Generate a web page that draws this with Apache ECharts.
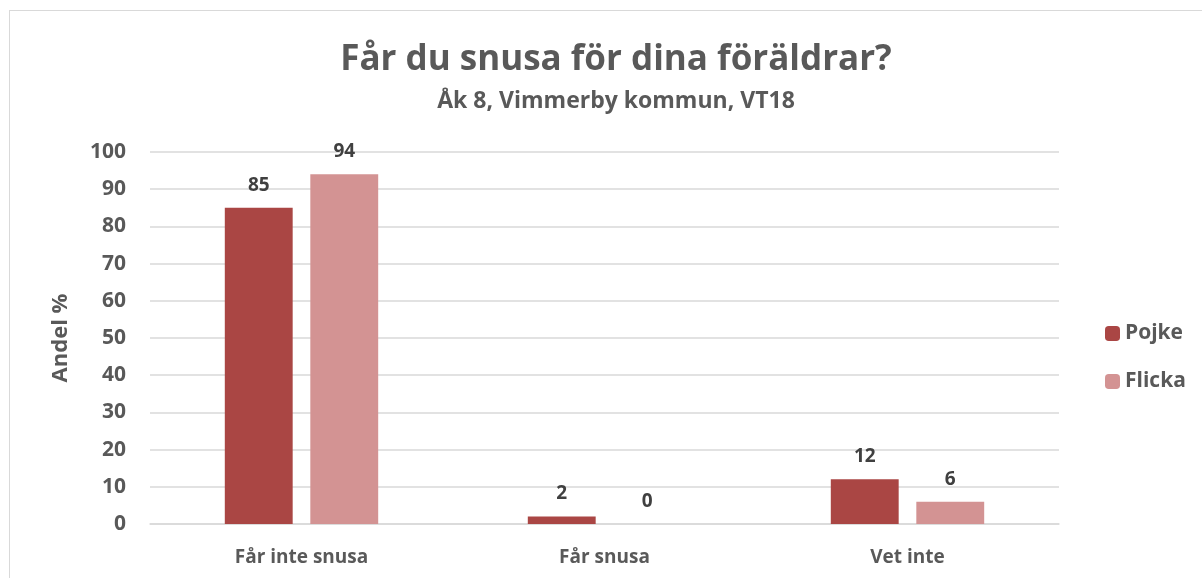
<!DOCTYPE html>
<html>
<head>
<meta charset="utf-8">
<script src="https://cdn.jsdelivr.net/npm/echarts@6/dist/echarts.min.js"></script>
<style>
  html, body { margin: 0; padding: 0; background: #fff; }
  #frame { position: absolute; left: 9px; top: 10px; width: 1200px; height: 580px; border: 1px solid #d9d9d9; box-sizing: border-box; }
  #chart { position: absolute; left: 0; top: 0; width: 1202px; height: 578px; }
</style>
</head>
<body>
<div id="frame"></div>
<div id="chart"></div>
<script>
// data
const categories = ['Får inte snusa', 'Får snusa', 'Vet inte'];
const pojke = [85, 2, 12];
const flicka = [94, 0, 6];
const yTicks = [0, 10, 20, 30, 40, 50, 60, 70, 80, 90, 100];

const font = 'Open Sans';
const grey = '#595959';

let chart = echarts.init(document.getElementById('chart'));
chart.setOption({
    animation: false,
    textStyle: { fontFamily: font },
    title: {
        text: 'Får du snusa för dina föräldrar?',
        subtext: 'Åk 8, Vimmerby kommun, VT18',
        left: 611,
        textAlign: 'center',
        top: 38,
        itemGap: 12,
        textStyle: { fontSize: 35, fontWeight: 'bold', color: grey, fontFamily: font },
        subtextStyle: { fontSize: 23, fontWeight: 'bold', color: grey, fontFamily: font }
    },
    legend: {
        orient: 'vertical',
        left: 1100,
        top: 318,
        itemWidth: 15,
        itemHeight: 15,
        itemGap: 27,
        textStyle: { fontSize: 21, fontWeight: 'bold', color: grey, fontFamily: font },
        data: ['Pojke', 'Flicka']
    },
    grid: { left: 150, right: 143, top: 152, bottom: 54, containLabel: false },
    xAxis: {
        type: 'category',
        data: categories,
        axisLine: { lineStyle: { color: '#d9d9d9', width: 1.5 } },
        axisTick: { show: false },
        axisLabel: { fontSize: 19, fontWeight: 'bold', color: grey, margin: 24 }
    },
    yAxis: {
        type: 'value',
        min: yTicks[0],
        max: yTicks[yTicks.length - 1],
        interval: 10,
        name: 'Andel %',
        nameLocation: 'middle',
        nameRotate: 90,
        nameGap: 78,
        nameTextStyle: { fontSize: 22, fontWeight: 'bold', color: grey },
        axisLine: { show: false },
        axisTick: { show: false },
        axisLabel: { fontSize: 21, fontWeight: 'bold', color: grey, margin: 24 },
        splitLine: { lineStyle: { color: '#d9d9d9', width: 1.5 } }
    },
    series: [
        {
            name: 'Pojke',
            type: 'bar',
            data: pojke,
            barWidth: '22.4%',
            barGap: '26%',
            itemStyle: { color: '#aa4644' },
            label: { show: true, position: 'top', distance: 13, fontSize: 19, fontWeight: 'bold', color: '#404040' }
        },
        {
            name: 'Flicka',
            type: 'bar',
            data: flicka,
            barWidth: '22.4%',
            itemStyle: { color: '#d39393' },
            label: { show: true, position: 'top', distance: 13, fontSize: 19, fontWeight: 'bold', color: '#404040' }
        }
    ]
});
</script>
</body>
</html>
